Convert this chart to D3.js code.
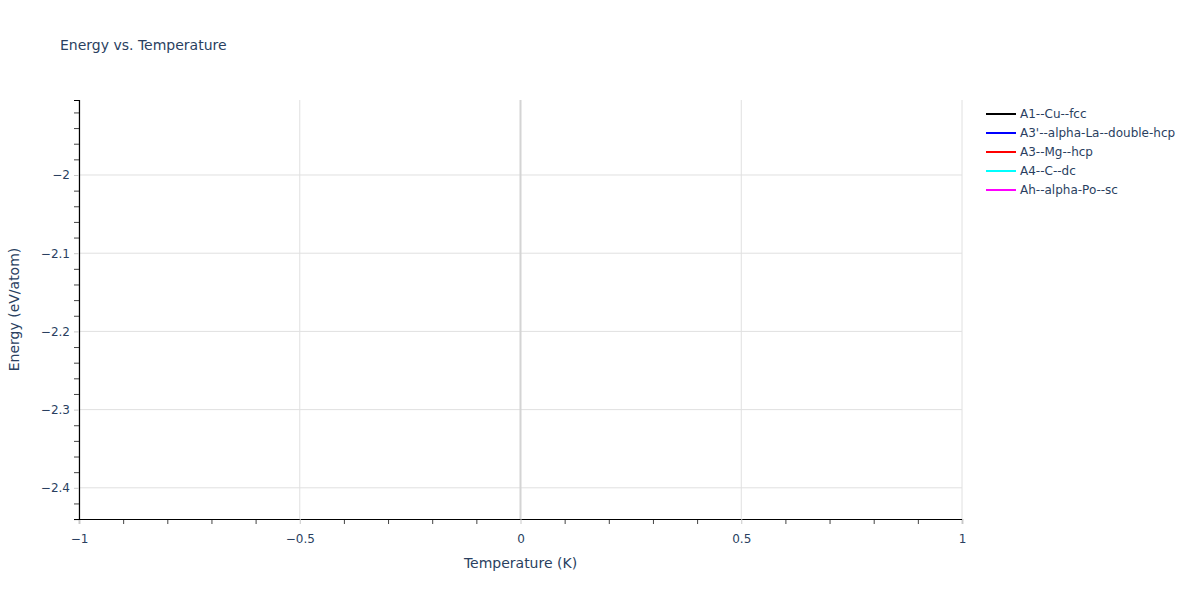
<!DOCTYPE html>
<html>
<head>
<meta charset="utf-8">
<script src="https://cdn.jsdelivr.net/npm/d3@7"></script>
<style>
  body { margin: 0; background: #fff; }
  text { font-family: "DejaVu Sans", Verdana, sans-serif; fill: #2a3f5f; }
</style>
</head>
<body>
<svg></svg>
<script>
// Series: each structure has one point at T = 0, so the lines draw nothing.
var seriesNames = ["A1--Cu--fcc", "A3'--alpha-La--double-hcp", "A3--Mg--hcp", "A4--C--dc", "Ah--alpha-Po--sc"];
var seriesColors = ["black", "blue", "red", "cyan", "magenta"];
var temperatures = [[0], [0], [0], [0], [0]];
var energies = [[-2.02], [-2.03], [-2.04], [-2.30], [-2.12]];

var xTicks = [-1, -0.5, 0, 0.5, 1];
var yTicks = [-2.4, -2.3, -2.2, -2.1, -2];

var width = 1200,
    height = 600;
var margin = { left: 79, right: 238, top: 100, bottom: 81 };

var svg = d3.select("svg")
    .attr("width", width)
    .attr("height", height);

var x = d3.scaleLinear().domain([-1, 1]).range([margin.left, width - margin.right]);
var y = d3.scaleLinear().domain([-2.4399, -1.9041]).range([height - margin.bottom, margin.top]);

function tickFmt(d) { return d3.format("")(d).replace("-", "\u2212"); }

// grid
svg.append("g").selectAll("line")
    .data(xTicks.filter(function(d) { return d !== 0; }))
  .enter().append("line")
    .attr("x1", function(d) { return x(d); }).attr("x2", function(d) { return x(d); })
    .attr("y1", margin.top).attr("y2", height - margin.bottom)
    .attr("stroke", "#e0e0e0").attr("stroke-width", 1);

svg.append("g").selectAll("line")
    .data(yTicks)
  .enter().append("line")
    .attr("x1", margin.left).attr("x2", width - margin.right)
    .attr("y1", function(d) { return y(d); }).attr("y2", function(d) { return y(d); })
    .attr("stroke", "#e0e0e0").attr("stroke-width", 1);

// zero line
svg.append("line")
    .attr("x1", x(0)).attr("x2", x(0))
    .attr("y1", margin.top).attr("y2", height - margin.bottom)
    .attr("stroke", "#d4d4d4").attr("stroke-width", 2);

// series lines
var line = d3.line()
    .x(function(d) { return x(d[0]); })
    .y(function(d) { return y(d[1]); });

seriesNames.forEach(function(name, i) {
  var pts = d3.zip(temperatures[i], energies[i]);
  svg.append("path")
      .attr("d", line(pts))
      .attr("fill", "none")
      .attr("stroke", seriesColors[i])
      .attr("stroke-width", 2);
});

// axes: minor ticks in their own group, then major ticks with labels
var xBase = "translate(0," + (height - margin.bottom) + ")";
svg.append("g").attr("transform", xBase)
    .call(d3.axisBottom(x).tickValues(d3.range(-10, 11).filter(function(d) { return d % 5; })
      .map(function(d) { return d / 10; })).tickSize(5).tickFormat(""))
    .call(function(g) { g.select(".domain").remove(); g.selectAll(".tick line").attr("stroke", "#444"); });

var xAxis = svg.append("g").attr("transform", xBase)
    .call(d3.axisBottom(x).tickValues(xTicks).tickSize(5).tickFormat(tickFmt));
xAxis.selectAll(".domain").attr("stroke", "#000").attr("stroke-width", 1.2);
xAxis.selectAll(".tick line").attr("stroke", "#c8c8c8");
xAxis.selectAll("text")
    .attr("dy", "1.3em")
    .style("font-size", "12px")
    .style("font-family", "'DejaVu Sans', Verdana, sans-serif")
    .attr("fill", "#2a3f5f");

var yBase = "translate(" + margin.left + ",0)";
svg.append("g").attr("transform", yBase)
    .call(d3.axisLeft(y).tickValues(d3.range(-122, -95).filter(function(d) { return d % 5; })
      .map(function(d) { return d / 50; })).tickSize(5).tickFormat(""))
    .call(function(g) { g.select(".domain").remove(); g.selectAll(".tick line").attr("stroke", "#444"); });

var yAxis = svg.append("g").attr("transform", yBase)
    .call(d3.axisLeft(y).tickValues(yTicks).tickSize(5).tickFormat(tickFmt));
yAxis.selectAll(".domain").attr("stroke", "#000").attr("stroke-width", 1.2);
yAxis.selectAll(".tick line").attr("stroke", "#c8c8c8");
yAxis.selectAll("text")
    .attr("x", -9)
    .style("font-size", "12px")
    .style("font-family", "'DejaVu Sans', Verdana, sans-serif")
    .attr("fill", "#2a3f5f");

// titles
svg.append("text")
    .attr("x", 60).attr("y", 50)
    .style("font-size", "14px")
    .text("Energy vs. Temperature");

svg.append("text")
    .attr("x", (margin.left + width - margin.right) / 2)
    .attr("y", 568)
    .attr("text-anchor", "middle")
    .style("font-size", "14px")
    .text("Temperature (K)");

svg.append("text")
    .attr("transform", "translate(19," + ((margin.top + height - margin.bottom) / 2) + ") rotate(-90)")
    .attr("text-anchor", "middle")
    .style("font-size", "14px")
    .text("Energy (eV/atom)");

// legend
var legend = svg.append("g").attr("transform", "translate(986,114)");
var items = legend.selectAll("g")
    .data(seriesNames)
  .enter().append("g")
    .attr("transform", function(d, i) { return "translate(0," + (i * 19) + ")"; });
items.append("line")
    .attr("x1", 0).attr("x2", 30)
    .attr("stroke", function(d, i) { return seriesColors[i]; })
    .attr("stroke-width", 2);
items.append("text")
    .attr("x", 34).attr("y", 4)
    .style("font-size", "12px")
    .text(function(d) { return d; });
</script>
</body>
</html>
